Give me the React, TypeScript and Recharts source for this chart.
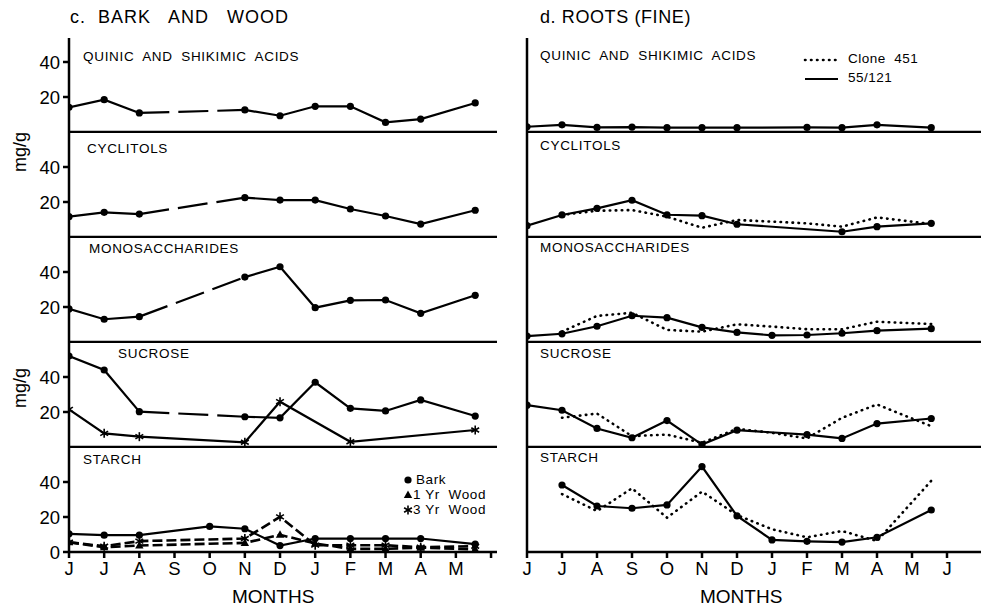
import React from "react";
import { LineChart, Line, XAxis, YAxis } from "recharts";

type Pt = [number, number | null];

const LATE_MAY = 11.55;
const monthsLeft = ["J", "J", "A", "S", "O", "N", "D", "J", "F", "M", "A", "M", ""];
const monthsRight = ["J", "J", "A", "S", "O", "N", "D", "J", "F", "M", "A", "M", "J"];
const ticks2 = [20, 40];
const ticks3 = [0, 20, 40];

// c. bark and wood  (null = gap, bridged with a long dashed line)
const quinicBark: Pt[] = [[0, 14.1], [1, 18.5], [2, 10.9], [3, null], [5, 12.6], [6, 9.3], [7, 14.7], [8, 14.7], [9, 5.5], [10, 7.4], [LATE_MAY, 16.6]];
const cyclitolsBark: Pt[] = [[0, 11.6], [1, 14.1], [2, 13.1], [3, null], [5, 22.5], [6, 21.1], [7, 21.1], [8, 16], [9, 12], [10, 7.4], [LATE_MAY, 15.3]];
const monoBark: Pt[] = [[0, 18.9], [1, 13], [2, 14.5], [3, null], [5, 37.1], [6, 43], [7, 19.6], [8, 23.8], [9, 24], [10, 16.4], [LATE_MAY, 26.7]];
const sucroseBark: Pt[] = [[0, 52], [1, 44], [2, 20.2], [3, null], [5, 17.3], [6, 16.7], [7, 37], [8, 22.1], [9, 20.6], [10, 26.9], [LATE_MAY, 17.7]];
const sucroseWood: Pt[] = [[0, 21.5], [1, 7.8], [2, 5.9], [5, 2.7], [6, 25.9], [8, 3], [LATE_MAY, 9.7]];
const starchBark: Pt[] = [[0, 10.4], [1, 9.6], [2, 9.6], [4, 14.6], [5, 13.3], [6, 3.7], [7, 7.7], [8, 7.7], [9, 7.7], [10, 7.7], [LATE_MAY, 4.5]];
const starchWood1: Pt[] = [[0, 5.6], [1, 2.7], [2, 3.7], [5, 5.2], [6, 9.8], [7, 4.9], [8, 1.8], [9, 1.8], [10, 2.5], [LATE_MAY, 1.4]];
const starchWood3: Pt[] = [[0, 5.6], [1, 3.3], [2, 6.2], [5, 7.7], [6, 20.1], [7, 3.9], [8, 3.9], [9, 3.9], [10, 2.7], [LATE_MAY, 3.3]];

// d. roots (fine): 55/121 solid, clone 451 dotted
const quinic55: Pt[] = [[0, 3], [1, 4.1], [2, 2.6], [3, 2.8], [4, 2.5], [5, 2.5], [6, 2.5], [8, 2.6], [9, 2.5], [10, 4.1], [LATE_MAY, 2.5]];
const cyclitols55: Pt[] = [[0, 6.5], [1, 12.6], [2, 16.4], [3, 21], [4, 12.7], [5, 12.2], [6, 7.3], [9, 3], [10, 5.9], [LATE_MAY, 7.8]];
const cyclitols451: Pt[] = [[1, 12.6], [2, 15], [3, 15.4], [4, 11.6], [5, 5.3], [6, 9.7], [7, 8.8], [8, 7.8], [9, 5.9], [10, 11.2], [LATE_MAY, 7.4]];
const mono55: Pt[] = [[0, 3.4], [1, 4.7], [2, 9], [3, 15], [4, 13.9], [5, 8.4], [6, 5.5], [7, 3.8], [8, 4], [9, 5], [10, 6.5], [LATE_MAY, 7.6]];
const mono451: Pt[] = [[1, 5.9], [2, 14.9], [3, 16.7], [4, 6.9], [5, 5.9], [6, 10.1], [7, 8.8], [8, 7.3], [9, 7.3], [10, 11.6], [LATE_MAY, 10.3]];
const sucrose55: Pt[] = [[0, 23.9], [1, 21], [2, 10.6], [3, 5.3], [4, 15.1], [5, 1.4], [6, 9.6], [8, 7.1], [9, 4.9], [10, 13.4], [LATE_MAY, 16.3]];
const sucrose451: Pt[] = [[1, 16.7], [2, 19.1], [3, 6.2], [4, 7.1], [5, 2.4], [6, 10.4], [7, 8.1], [8, 4.9], [9, 16.7], [10, 24.3], [LATE_MAY, 11.9]];
const starch55: Pt[] = [[1, 38.3], [2, 26.3], [3, 25], [4, 26.9], [5, 48.8], [6, 20.6], [7, 6.9], [8, 6.1], [9, 5.7], [10, 8.4], [LATE_MAY, 24]];
const starch451: Pt[] = [[1, 33.1], [2, 23.4], [3, 36.4], [4, 19.6], [5, 34.5], [6, 21.1], [7, 13], [8, 8.4], [9, 12], [10, 6.3], [LATE_MAY, 40.7]];

const PX = 1.75; // pixels per mg/g
const TOP = 38;
const BOTTOMS = [132, 237, 342, 447, 552];
const FONT = "'Liberation Sans', Arial, Helvetica, sans-serif";
const AX = { stroke: "#000", strokeWidth: 2.5 };

const rows = (pts: Pt[]) => pts.map(([x, y]) => ({ x, y }));

function bridges(pts: Pt[]): Pt[][] {
  const out: Pt[][] = [];
  pts.forEach((p, i) => {
    if (p[1] === null && pts[i - 1] && pts[i + 1]) out.push([pts[i - 1], pts[i + 1]]);
  });
  return out;
}

const round = (p: any) =>
  p.value == null || p.cy == null ? <g key={p.index} /> : <circle key={p.index} cx={p.cx} cy={p.cy} r={3.6} fill="#000" />;

const tri = (p: any) =>
  p.value == null || p.cy == null ? <g key={p.index} /> : (
    <polygon key={p.index} points={`${p.cx},${p.cy - 4.5} ${p.cx - 4.2},${p.cy + 3} ${p.cx + 4.2},${p.cy + 3}`} fill="#000" />
  );

const star = (p: any) => {
  if (p.value == null || p.cy == null) return <g key={p.index} />;
  const r = 4.5;
  return (
    <g key={p.index} stroke="#000" strokeWidth={1.6}>
      <line x1={p.cx} y1={p.cy - r} x2={p.cx} y2={p.cy + r} />
      <line x1={p.cx - r * 0.87} y1={p.cy - r / 2} x2={p.cx + r * 0.87} y2={p.cy + r / 2} />
      <line x1={p.cx - r * 0.87} y1={p.cy + r / 2} x2={p.cx + r * 0.87} y2={p.cy - r / 2} />
    </g>
  );
};

function barkLines(pts: Pt[], id: string) {
  return [
    <Line key={id} data={rows(pts)} dataKey="y" stroke="#000" strokeWidth={2.2} dot={round} isAnimationActive={false} />,
    ...bridges(pts).map((b, i) => (
      <Line key={id + "b" + i} data={rows(b)} dataKey="y" stroke="#000" strokeWidth={2.2} strokeDasharray="30 9" dot={false} isAnimationActive={false} />
    )),
  ];
}

function solid(pts: Pt[], id: string, dot: any, dash?: string) {
  return (
    <Line key={id} data={rows(pts)} dataKey="y" stroke="#000" strokeWidth={dash ? 2.6 : 2.2} strokeDasharray={dash} dot={dot} isAnimationActive={false} />
  );
}

function dotted(pts: Pt[], id: string) {
  return <Line key={id} data={rows(pts)} dataKey="y" stroke="#000" strokeWidth={2.6} strokeDasharray="0.5 5.5" strokeLinecap="round" dot={false} isAnimationActive={false} />;
}

type PanelProps = {
  left: number;
  width: number;
  axisW: number;
  xMax: number;
  top: number;
  bottom: number;
  yTicks: number[];
  yLabels: boolean;
  xLabels?: string[];
  lines: React.ReactNode[];
};

function Panel(p: PanelProps) {
  const plotH = p.bottom - p.top;
  const xH = p.xLabels ? 36 : 1;
  const labels = p.xLabels;
  return (
    <div style={{ position: "absolute", left: p.left, top: p.top }}>
      <LineChart width={p.width} height={plotH + xH} margin={{ top: 0, right: 0, bottom: 0, left: 0 }} style={{ overflow: "visible" }}>
        <XAxis
          type="number"
          dataKey="x"
          domain={[0, p.xMax]}
          allowDataOverflow
          height={xH}
          ticks={labels ? labels.map((_, i) => i) : []}
          interval={0}
          tickFormatter={(v: number) => (labels ? labels[v] : "")}
          axisLine={AX}
          tickLine={labels ? AX : false}
          tickSize={6}
          tickMargin={4}
          tick={labels ? { fontSize: 18.5, fill: "#000", fontFamily: FONT } : false}
        />
        <YAxis
          type="number"
          domain={[0, plotH / PX]}
          allowDataOverflow
          width={p.axisW}
          ticks={p.yTicks}
          interval={0}
          axisLine={AX}
          tickLine={AX}
          tickSize={6}
          tickMargin={3}
          tick={p.yLabels ? { fontSize: 18.5, fill: "#000", fontFamily: FONT } : false}
        />
        {p.lines}
      </LineChart>
    </div>
  );
}

const leftLines: React.ReactNode[][] = [
  barkLines(quinicBark, "q"),
  barkLines(cyclitolsBark, "c"),
  barkLines(monoBark, "m"),
  [...barkLines(sucroseBark, "s"), solid(sucroseWood, "sw", star)],
  [
    solid(starchWood3, "w3", star, "10 4"),
    solid(starchWood1, "w1", tri, "10 4"),
    solid(starchBark, "sb", round),
  ],
];

const rightLines: React.ReactNode[][] = [
  [solid(quinic55, "rq", round)],
  [dotted(cyclitols451, "rc4"), solid(cyclitols55, "rc", round)],
  [dotted(mono451, "rm4"), solid(mono55, "rm", round)],
  [dotted(sucrose451, "rs4"), solid(sucrose55, "rs", round)],
  [dotted(starch451, "rst4"), solid(starch55, "rst", round)],
];

const panelTitles = ["QUINIC AND SHIKIMIC ACIDS", "CYCLITOLS", "MONOSACCHARIDES", "SUCROSE", "STARCH"];
const leftTitlePos = [[83, 58], [87, 150], [89, 250], [118, 355], [83, 461]];
const rightTitlePos = [[540, 57], [540, 147], [540, 249], [540, 355], [540, 459]];

const txt = (x: number, y: number, s: string, size: number, extra: React.CSSProperties = {}) => (
  <div
    key={s + x + y}
    style={{ position: "absolute", left: x, top: y - size * 0.6, fontSize: size, fontFamily: FONT, lineHeight: 1, whiteSpace: "pre", color: "#000", ...extra }}
  >
    {s}
  </div>
);

export default function App() {
  return (
    <div style={{ position: "absolute", left: 0, top: 0, width: 981, height: 607, background: "#fff", overflow: "hidden" }}>
      {txt(70, 19, "c.  BARK   AND   WOOD", 18, { letterSpacing: 1 })}
      {txt(540, 19, "d. ROOTS (FINE)", 18, { letterSpacing: 0.6 })}

      {BOTTOMS.map((b, i) => (
        <Panel
          key={"l" + i}
          left={0}
          width={497}
          axisW={69}
          xMax={(497 - 69) / 35.17}
          top={i === 0 ? TOP : BOTTOMS[i - 1]}
          bottom={b}
          yTicks={i === 4 ? ticks3 : ticks2}
          yLabels
          xLabels={i === 4 ? monthsLeft : undefined}
          lines={leftLines[i]}
        />
      ))}
      {BOTTOMS.map((b, i) => (
        <Panel
          key={"r" + i}
          left={497}
          width={484}
          axisW={30}
          xMax={454 / 35}
          top={i === 0 ? TOP : BOTTOMS[i - 1]}
          bottom={b}
          yTicks={ticks2}
          yLabels={false}
          xLabels={i === 4 ? monthsRight : undefined}
          lines={rightLines[i]}
        />
      ))}

      {panelTitles.map((t, i) => txt(leftTitlePos[i][0], leftTitlePos[i][1], t, 13.5, { letterSpacing: 0.7, wordSpacing: 4 }))}
      {panelTitles.map((t, i) => txt(rightTitlePos[i][0], rightTitlePos[i][1], t, 13.5, { letterSpacing: 0.7, wordSpacing: 4 }))}

      {[152, 388].map((cy) => (
        <div
          key={cy}
          style={{ position: "absolute", left: 20 - 25, top: cy - 10, width: 50, height: 20, textAlign: "center", fontSize: 18, fontFamily: FONT, lineHeight: "20px", transform: "rotate(-90deg)" }}
        >
          mg/g
        </div>
      ))}

      {txt(232, 598, "MONTHS", 19)}
      {txt(700, 598, "MONTHS", 19)}

      {/* legends */}
      <svg style={{ position: "absolute", left: 0, top: 0 }} width={981} height={607}>
        {round({ cx: 408, cy: 480, value: 1, index: "lg1" })}
        {tri({ cx: 408, cy: 495, value: 1, index: "lg2" })}
        {star({ cx: 408, cy: 510, value: 1, index: "lg3" })}
        <line x1={805} y1={60} x2={838} y2={60} stroke="#000" strokeWidth={2.6} strokeDasharray="0.5 5.5" strokeLinecap="round" />
        <line x1={805} y1={79} x2={838} y2={79} stroke="#000" strokeWidth={2.2} />
      </svg>
      {txt(416, 481, "Bark", 13.5, { letterSpacing: 0.6 })}
      {txt(413, 496, "1 Yr  Wood", 13.5, { letterSpacing: 0.6 })}
      {txt(413, 511, "3 Yr  Wood", 13.5, { letterSpacing: 0.6 })}
      {txt(848, 60, "Clone  451", 13.5, { letterSpacing: 0.5 })}
      {txt(848, 79, "55/121", 13.5, { letterSpacing: 0.5 })}
    </div>
  );
}
